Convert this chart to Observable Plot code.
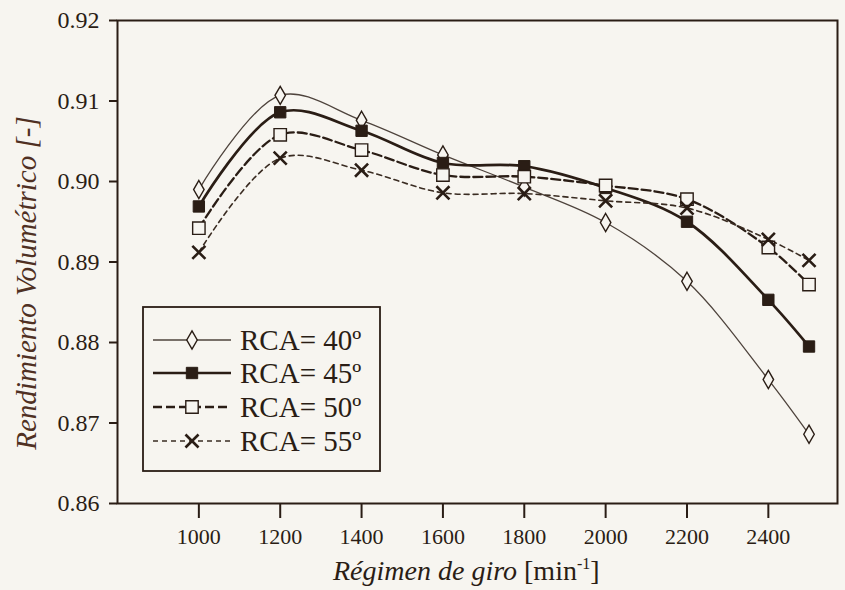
<!DOCTYPE html>
<html><head><meta charset="utf-8">
<script src="https://cdn.jsdelivr.net/npm/d3@7"></script>
<script src="https://cdn.jsdelivr.net/npm/@observablehq/plot@0.6"></script>
<style>
html,body{margin:0;padding:0;background:#f7f5f0;}
#chart{width:845px;height:590px;}
</style></head><body><div id="chart"></div>
<script>
// ---- data ----
const rpm = [1000, 1200, 1400, 1600, 1800, 2000, 2200, 2400, 2500];
const rca40 = [0.8990, 0.9107, 0.9076, 0.9033, 0.8993, 0.8949, 0.8876, 0.8754, 0.8686];
const rca45 = [0.8969, 0.9086, 0.9063, 0.9023, 0.9019, 0.8992, 0.8950, 0.8853, 0.8795];
const rca50 = [0.8942, 0.9058, 0.9039, 0.9008, 0.9006, 0.8995, 0.8978, 0.8918, 0.8872];
const rca55 = [0.8912, 0.9029, 0.9014, 0.8986, 0.8985, 0.8976, 0.8967, 0.8928, 0.8902];
const seriesNames = ["RCA= 40º", "RCA= 45º", "RCA= 50º", "RCA= 55º"];
const xTicks = [1000, 1200, 1400, 1600, 1800, 2000, 2200, 2400];
const yTicks = [0.86, 0.87, 0.88, 0.89, 0.90, 0.91, 0.92];
const yTitle = "Rendimiento Volumétrico [-]";
const xTitleItalic = "Régimen de giro";
const xTitleUnit = "[min";
const xTitleSup = "-1";

// ---- styles ----
const ink = "#2a1d15";
const paper = "#f7f5f0";
const serif = "'Liberation Serif', 'Times New Roman', serif";
const styles = [
  {stroke: "#4e433c", strokeWidth: 1.3, dash: null, symbol: "diamond", d3sym: d3.symbolDiamond, r: 5.5, fill: paper, msw: 1.4},
  {stroke: ink, strokeWidth: 2.7, dash: null, symbol: "square", d3sym: d3.symbolSquare, r: 6.4, fill: ink, msw: 1},
  {stroke: ink, strokeWidth: 2.3, dash: "9,4", symbol: "square", d3sym: d3.symbolSquare, r: 7.0, fill: paper, msw: 1.4},
  {stroke: "#3a2c22", strokeWidth: 1.6, dash: "5,4", symbol: "times", d3sym: d3.symbolTimes, r: 6.0, fill: "none", msw: 2.6}
];

const allSeries = [rca40, rca45, rca50, rca55];
const rows = [];
allSeries.forEach((vals, i) => vals.forEach((v, j) => rows.push({series: seriesNames[i], idx: i, rpm: rpm[j], eff: v})));

const marks = [];
styles.forEach((s, i) => {
  marks.push(Plot.line(rows.filter(d => d.idx === i), {
    x: "rpm", y: "eff", curve: "catmull-rom",
    stroke: s.stroke, strokeWidth: s.strokeWidth, strokeDasharray: s.dash
  }));
});
styles.forEach((s, i) => {
  marks.push(Plot.dot(rows.filter(d => d.idx === i), {
    x: "rpm", y: "eff", symbol: s.symbol, r: s.r,
    fill: s.fill, stroke: ink, strokeWidth: s.msw
  }));
});
marks.push(Plot.frame({stroke: ink, strokeWidth: 2}));

const svg = Plot.plot({
  width: 845, height: 590,
  marginLeft: 117, marginRight: 8, marginTop: 20, marginBottom: 87,
  style: {background: paper, color: ink, fontFamily: serif, fontSize: "22px"},
  x: {domain: [800, 2570], ticks: xTicks, tickFormat: d3.format("d"), tickSize: 15, tickPadding: 10, label: null},
  y: {domain: [0.86, 0.92], ticks: yTicks, tickFormat: d3.format(".2f"), tickSize: 8, tickPadding: 10, label: null},
  marks
});
document.getElementById("chart").appendChild(svg);

const S = d3.select(svg);
S.selectAll('g[aria-label="y-axis tick label"], g[aria-label="y-axis"]').style("font-size", "24px");
S.selectAll('g[aria-label="x-axis tick label"], g[aria-label="x-axis"]').style("font-size", "22px");
S.selectAll('g[aria-label="x-axis tick"], g[aria-label="y-axis tick"]').attr("stroke-width", 2);

// ---- axis titles ----
S.append("text")
  .attr("transform", "translate(36,283) rotate(-90)")
  .attr("text-anchor", "middle")
  .attr("font-family", serif)
  .attr("font-size", 29).attr("font-style", "italic")
  .attr("fill", "#4f3023")
  .text(yTitle);

const xt = S.append("text")
  .attr("x", 333).attr("y", 580)
  .attr("text-anchor", "start")
  .attr("font-family", serif)
  .attr("font-size", 28).attr("fill", ink);
xt.append("tspan").attr("font-style", "italic").text(xTitleItalic + " ");
xt.append("tspan").text(xTitleUnit);
xt.append("tspan").attr("font-size", 16).attr("dy", -11).text(xTitleSup);
xt.append("tspan").attr("dy", 11).text("]");

// ---- legend ----
const lg = S.append("g").attr("aria-label", "legend");
lg.append("rect").attr("x", 143).attr("y", 307).attr("width", 237).attr("height", 164)
  .attr("fill", paper).attr("stroke", ink).attr("stroke-width", 1.8);
const rowY = [340, 373, 407, 441];
styles.forEach((s, i) => {
  const y = rowY[i];
  lg.append("line").attr("x1", 153).attr("x2", 231).attr("y1", y).attr("y2", y)
    .attr("stroke", s.stroke).attr("stroke-width", s.strokeWidth)
    .attr("stroke-dasharray", s.dash);
  lg.append("path").attr("transform", `translate(192,${y})`)
    .attr("d", d3.symbol().type(s.d3sym).size(Math.PI * s.r * s.r)())
    .attr("fill", s.fill).attr("stroke", ink).attr("stroke-width", s.msw);
  lg.append("text").attr("x", 240).attr("y", y).attr("dy", "0.35em")
    .attr("text-anchor", "start")
    .attr("font-family", serif)
    .attr("font-size", 29).attr("fill", ink).text(seriesNames[i]);
});
</script>
</body></html>
